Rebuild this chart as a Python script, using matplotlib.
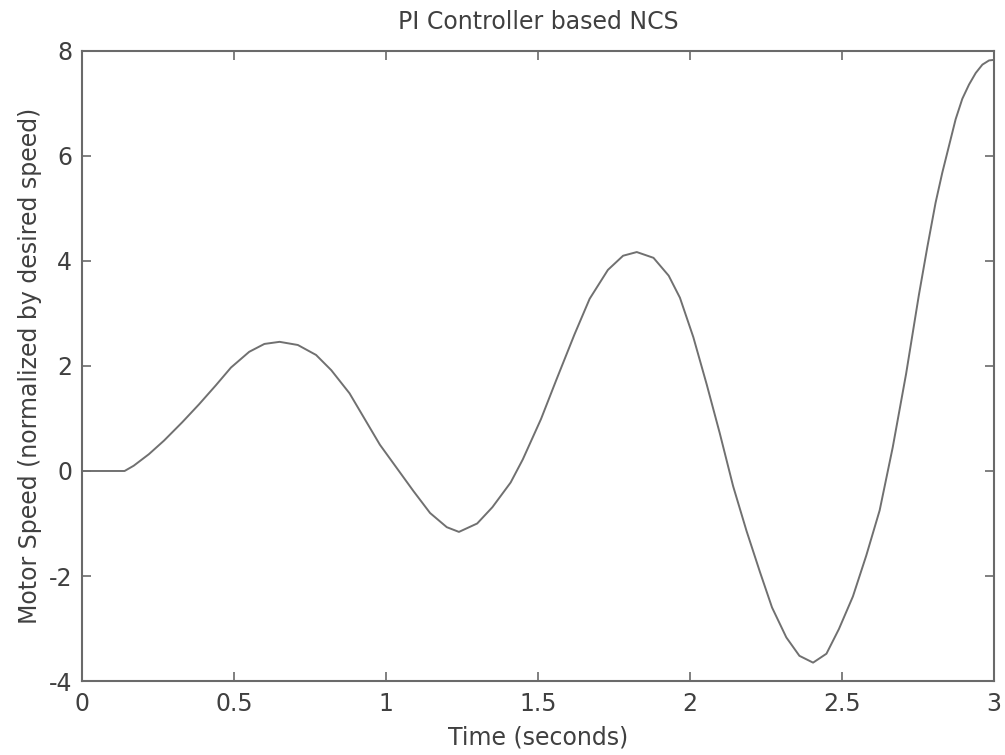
import matplotlib
matplotlib.use("Agg")
import matplotlib.pyplot as plt

# values
time_s = [0.0, 0.14, 0.17, 0.22, 0.27, 0.33, 0.385, 0.44, 0.49, 0.55, 0.60,
          0.65, 0.71, 0.77, 0.82, 0.88, 0.93, 0.98, 1.035, 1.09, 1.145,
          1.20, 1.24, 1.30, 1.35, 1.41, 1.45, 1.51, 1.56, 1.62, 1.67, 1.73,
          1.78, 1.825, 1.88, 1.93, 1.967, 2.011, 2.055, 2.098, 2.142, 2.186,
          2.23, 2.27, 2.317, 2.36, 2.405, 2.449, 2.49, 2.536, 2.58, 2.624,
          2.667, 2.711, 2.753, 2.781, 2.808, 2.830, 2.852, 2.874, 2.896,
          2.918, 2.94, 2.962, 2.984, 3.0]
speed = [0.0, 0.0, 0.10, 0.32, 0.58, 0.93, 1.27, 1.63, 1.97, 2.27, 2.42,
         2.46, 2.40, 2.21, 1.92, 1.48, 0.99, 0.50, 0.06, -0.38, -0.80,
         -1.07, -1.16, -1.00, -0.69, -0.22, 0.22, 0.99, 1.73, 2.60, 3.28, 3.83,
         4.10, 4.17, 4.06, 3.72, 3.30, 2.55, 1.65, 0.72, -0.29, -1.14,
         -1.92, -2.60, -3.17, -3.52, -3.65, -3.48, -3.01, -2.39, -1.61, -0.75,
         0.45, 1.85, 3.35, 4.27, 5.11, 5.68, 6.19, 6.70, 7.09,
         7.36, 7.58, 7.74, 7.82, 7.83]

x_ticks = [0, 0.5, 1, 1.5, 2, 2.5, 3]
x_tick_labels = ["0", "0.5", "1", "1.5", "2", "2.5", "3"]
y_ticks = [-4, -2, 0, 2, 4, 6, 8]

text_color = "#404040"
fs = 17

plt.rcParams["axes.unicode_minus"] = False

fig = plt.figure(figsize=(10.05, 7.55), dpi=100)
ax = fig.add_axes([0.0816, 0.098, 0.9074, 0.8345])

ax.plot(time_s, speed, color="#707070", linewidth=1.4)

ax.set_xlim(0, 3)
ax.set_ylim(-4, 8)
ax.set_xticks(x_ticks)
ax.set_xticklabels(x_tick_labels)
ax.set_yticks(y_ticks)

for side in ax.spines.values():
    side.set_color("#6a6a6a")
    side.set_linewidth(1.5)

ax.tick_params(direction="in", length=6.5, width=1.2, color="#6a6a6a",
               top=True, right=True, labelsize=fs, labelcolor=text_color)
ax.tick_params(axis="x", pad=8)
ax.tick_params(axis="y", pad=7)

ax.set_title("PI Controller based NCS", fontsize=fs, color=text_color, pad=16)
ax.set_xlabel("Time (seconds)", fontsize=fs, color=text_color, labelpad=7)
ax.set_ylabel("Motor Speed (normalized by desired speed)", fontsize=fs,
              color=text_color, labelpad=5)

fig.savefig("out.png", dpi=100, facecolor="white")
